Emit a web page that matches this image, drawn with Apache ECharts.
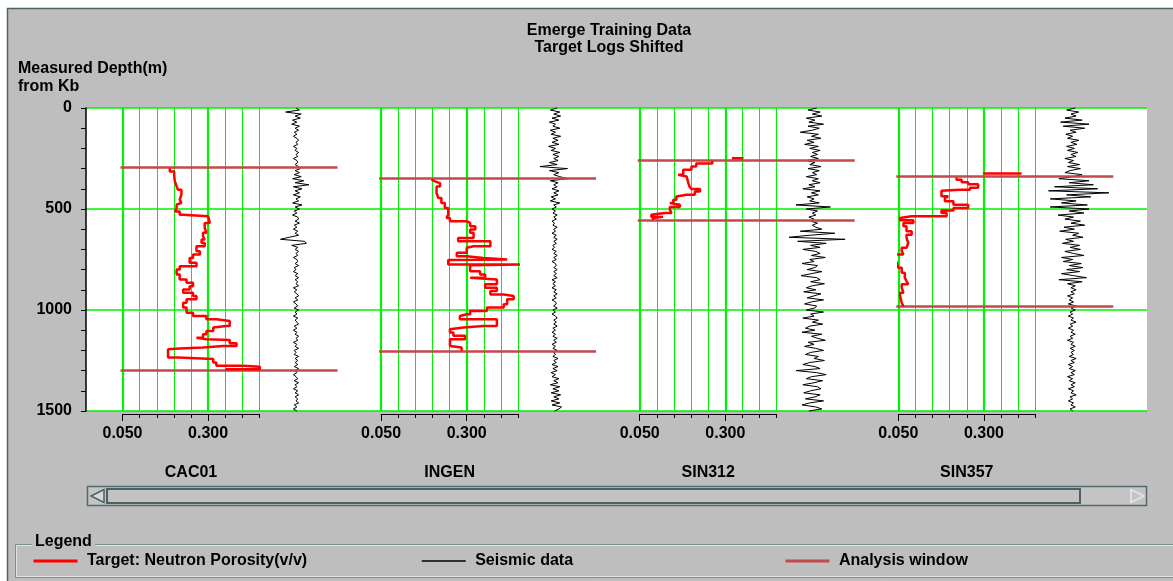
<!DOCTYPE html>
<html>
<head>
<meta charset="utf-8">
<script src="https://cdn.jsdelivr.net/npm/echarts@6/dist/echarts.min.js"></script>
<style>
  html, body { margin: 0; padding: 0; background: #ffffff; }
  #chart { width: 1173px; height: 581px; }
</style>
</head>
<body>
<div id="chart"></div>
<script>
// ---------------- DATA ----------------
const wellNames = ['CAC01', 'INGEN', 'SIN312', 'SIN357'];
const depthTicks = [0, 500, 1000, 1500];
const porAxisMin = 0.05, porAxisMax = 0.45, porAxisStep = 0.05;
const porLabelValues = [0.05, 0.3];

// Neutron porosity: block tops (m) and block values (v/v); last block ends at base
const cac01Top = [298,314,339,363,388,405,429,454,470,479,495,512,528,536,544,569,594,618,635,651,668,684,709,725,742,766,783,799,824,849,865,882,898,914,931,947,964,988,1013,1030,1046,1054,1079,1087,1104,1120,1137,1145,1148,1164,1178,1186,1191,1194,1235,1243,1260,1276,1281,1293];
const cac01Por = [0.188,0.201,0.203,0.208,0.212,0.222,0.217,0.222,0.217,0.208,0.203,0.217,0.227,0.300,0.305,0.290,0.295,0.285,0.290,0.281,0.290,0.266,0.276,0.256,0.246,0.266,0.217,0.208,0.217,0.237,0.256,0.246,0.227,0.256,0.266,0.237,0.227,0.237,0.256,0.295,0.324,0.363,0.353,0.315,0.295,0.285,0.266,0.295,0.363,0.383,0.344,0.285,0.217,0.183,0.212,0.315,0.324,0.402,0.451,0.353];
const cac01Base = 1300;

const ingenTop = [355,363,372,388,421,446,470,495,528,544,561,569,586,602,618,643,660,684,692,717,734,742,750,753,775,778,808,824,840,849,873,890,906,923,931,947,972,988,1005,1021,1030,1046,1079,1087,1095,1112,1128,1145,1178,1186];
const ingenPor = [0.197,0.207,0.222,0.212,0.217,0.226,0.236,0.246,0.241,0.251,0.300,0.310,0.325,0.310,0.320,0.275,0.369,0.320,0.300,0.271,0.300,0.349,0.418,0.246,0.457,0.310,0.339,0.354,0.310,0.388,0.354,0.388,0.369,0.408,0.437,0.418,0.408,0.359,0.310,0.300,0.280,0.388,0.349,0.290,0.251,0.261,0.295,0.251,0.246,0.285];
const ingenBase = 1202;

const sin312Top = [262,275,289,306,331,339,347,372,391,401,413,429,438,454,470,479,490,503,520,528,539,544];
const sin312Por = [0.262,0.215,0.201,0.177,0.162,0.187,0.192,0.196,0.201,0.226,0.211,0.187,0.157,0.148,0.138,0.167,0.138,0.143,0.123,0.084,0.118,0.089];
const sin312Base = 554;

const sin357Top = [344,355,368,378,395,405,410,437,446,462,479,495,508,520,536,544,556,569,585,610,627,643,668,692,709,725,742,766,791,816,840,857,873,890,914,931,964];
const sin357Por = [0.220,0.235,0.254,0.283,0.259,0.230,0.176,0.196,0.186,0.211,0.254,0.211,0.176,0.191,0.089,0.055,0.094,0.065,0.074,0.089,0.074,0.079,0.074,0.060,0.065,0.040,0.045,0.050,0.060,0.069,0.074,0.079,0.060,0.065,0.055,0.060,0.065];
const sin357Base = 982;

// short isolated porosity dash drawn just above the window (depth, from, to); null = none
const capDepth = [null, null, 249, 324];
const capFrom  = [null, null, 0.319, 0.298];
const capTo    = [null, null, 0.353, 0.410];

// analysis windows (top, bottom) in m
const windowTop    = [293, 350, 258, 336];
const windowBottom = [1299, 1202, 554, 982];

// seismic traces: amplitude every 10 m from 0 to 1500 m
const seisStep = 10;
const seisCAC01 = [
 0,4,-12,6,-1,5,-4,1,-5,4,
 -1,3,-2,1,-3,1,3,0,2,-3,
 1,-1,3,0,2,-3,1,2,-1,3,
 5,-1,4,-2,6,-4,9,-1,15,-3,
 7,-1,4,-3,5,0,3,-4,7,-1,
 4,-2,1,-4,2,3,-1,4,-2,1,
 -3,2,-1,3,-8,-18,10,12,-5,2,
 -1,3,0,2,-3,1,2,-1,3,-2,
 0,-3,2,-1,3,-1,2,0,3,-3,
 1,-2,1,3,-1,2,-3,0,2,-2,
 3,-1,1,-3,2,-1,1,3,-2,1,
 -3,1,-1,3,0,2,-3,1,-1,3,
 -2,0,-2,3,-1,2,-1,2,-2,3,
 -1,1,-3,0,2,-2,3,-1,1,-3,
 2,-1,3,-1,2,0,3,-2,1,-3,
 1];
const seisINGEN = [
 3,-5,6,-1,7,-3,5,-6,1,-2,
 6,-5,1,-4,7,-2,4,-3,5,-7,
 1,-4,6,-2,5,-1,4,-6,3,-17,
 15,-6,5,-1,6,15,-5,4,-1,3,
 -3,5,-1,4,-4,1,-5,6,-1,2,
 -3,1,-2,3,-1,2,-3,0,-2,3,
 -1,1,-3,2,-1,3,-1,2,-2,0,
 -3,2,-1,3,-1,2,-3,1,2,-1,
 3,-1,2,-1,3,-3,1,-2,1,-3,
 2,-1,3,-1,2,-3,1,2,-1,3,
 -2,1,-3,1,3,-1,2,-1,3,-2,
 1,-3,1,-2,3,-1,2,-3,1,-2,
 3,-1,1,-2,4,-1,2,-3,4,-2,
 3,-4,1,-3,5,-1,4,-5,6,-2,
 5,-4,7,-1,5,-4,6,-3,8,5,
 0];
const seisSIN312 = [
 4,-6,8,-1,10,-8,2,-5,12,-6,
 7,-1,-15,6,-2,9,-7,1,-10,6,
 -4,8,-1,5,-3,6,-8,2,-4,9,
 -6,7,-1,4,-8,6,-1,8,-5,2,
 -12,8,-2,6,-7,1,-4,7,-20,20,
 -8,5,-1,3,-5,1,-3,5,-1,3,
 10,-15,25,-4,-28,37,-18,15,-3,8,
 -12,3,8,-2,14,-4,1,-13,5,2,
 -7,10,-2,-14,4,8,-3,13,-1,-8,
 3,-11,9,1,-7,12,-2,-10,4,2,
 -8,12,-3,1,-12,6,-1,11,-4,-9,
 2,-13,10,-2,5,14,-6,1,-10,3,
 12,-3,-9,6,1,13,-4,-12,2,8,
 -20,4,15,-2,-8,11,1,-12,5,9,
 -3,-11,8,2,-9,12,-4,-13,3,10,
 -5];
const seisSIN357 = [
 4,-6,8,-1,5,-8,12,-13,20,-10,
 15,-2,5,-7,1,-5,8,-1,6,-6,
 3,-5,7,-1,5,-8,2,-4,9,-5,
 10,-2,-8,12,1,-15,20,-3,25,-20,
 30,-27,43,-6,22,-25,5,-12,18,-25,
 20,-3,14,-16,2,-8,10,-1,15,-9,
 3,-14,8,1,13,-7,2,-11,9,-2,
 10,-8,2,14,-12,1,-10,11,-3,13,
 -6,9,-12,2,17,-15,12,-5,4,-1,
 5,-1,3,-5,1,-3,2,-4,5,-1,
 4,-2,1,-4,2,-1,5,-2,1,-4,
 2,-1,4,-2,1,-5,2,-1,4,-2,
 3,-1,2,-3,5,-1,3,-4,1,-3,
 4,-1,3,-5,1,-3,4,-1,3,-4,
 2,-1,5,-2,1,-4,2,-1,4,-2,
 1];

const NAME_POR = 'Target: Neutron Porosity(v/v)';
const NAME_SEIS = 'Seismic data';
const NAME_WIN = 'Analysis window';

// ---------------- BUILD ----------------
const porTops = [cac01Top, ingenTop, sin312Top, sin357Top];
const porVals = [cac01Por, ingenPor, sin312Por, sin357Por];
const porBases = [cac01Base, ingenBase, sin312Base, sin357Base];
const seisTraces = [seisCAC01, seisINGEN, seisSIN312, seisSIN357];

const FONT = 'Liberation Sans, Arial, Helvetica, sans-serif';
const GREEN = '#00f200';
const RED = '#ff0000';
const WINRED = '#c24a4a';
const GRAY = '#bebebe';

const PLOT_TOP = 108, PLOT_H = 303;
const TRACK_L0 = 122.5, TRACK_STEP = 258.6, TRACK_W = 137;
const SEIS_OFF = 173.5, SEIS_HALF = 50, SEIS_SCALE = 58;
const WIN_OFF = -2, WIN_W = 217;

function stairs(tops, vals, base) {
  const pts = [];
  for (let i = 0; i < tops.length; i++) {
    const bottom = i + 1 < tops.length ? tops[i + 1] : base;
    pts.push([vals[i], tops[i]], [vals[i], bottom]);
  }
  return pts;
}

const grid = [{ left: 86, top: PLOT_TOP, width: 1061, height: PLOT_H, show: true,
  backgroundColor: '#ffffff', borderWidth: 0, z: -1 }];
const xAxis = [{ gridIndex: 0, type: 'value', min: 0, max: 1, show: false }];
const yAxis = [{
  gridIndex: 0, type: 'value', min: depthTicks[0], max: depthTicks[depthTicks.length - 1],
  interval: depthTicks[1] - depthTicks[0], inverse: true, position: 'left', offset: 2,
  axisLine: { show: true, lineStyle: { color: '#000', width: 1.5 } },
  axisTick: { show: true, length: 5, lineStyle: { color: '#000', width: 1 } },
  minorTick: { show: true, splitNumber: 5, length: 5, lineStyle: { color: '#000', width: 1 } },
  axisLabel: { color: '#000', fontSize: 16, fontWeight: 'bold', fontFamily: FONT, margin: 12,
    formatter: v => String(v) },
  splitLine: { show: true, lineStyle: { color: GREEN, width: 1.5 } }
}];
const series = [];

for (let i = 0; i < 4; i++) {
  const L = TRACK_L0 + i * TRACK_STEP;
  const gT = grid.length, gS = gT + 1, gW = gT + 2;
  grid.push({ left: L, top: PLOT_TOP, width: TRACK_W, height: PLOT_H });
  grid.push({ left: L + SEIS_OFF - SEIS_HALF, top: PLOT_TOP, width: SEIS_HALF * 2, height: PLOT_H });
  grid.push({ left: L + WIN_OFF, top: PLOT_TOP, width: WIN_W, height: PLOT_H });

  const xA = xAxis.length;
  xAxis.push({
    gridIndex: gT, type: 'value', min: porAxisMin, max: porAxisMax, interval: porAxisStep,
    position: 'bottom', offset: 3,
    axisLine: { show: true, onZero: false, lineStyle: { color: '#000', width: 1 } },
    axisTick: { show: true, length: 4, lineStyle: { color: '#000', width: 1 } },
    axisLabel: { show: false },
    splitLine: { show: true, lineStyle: { color: GREEN, width: 1 } }
  });
  xAxis.push({
    gridIndex: gT, type: 'value', min: porAxisMin, max: porAxisMax, interval: porAxisStep,
    position: 'bottom', offset: 3,
    axisLine: { show: false, onZero: false },
    axisTick: { show: true, length: 7, customValues: porLabelValues, lineStyle: { color: '#000', width: 1 } },
    axisLabel: { show: true, customValues: porLabelValues, margin: 12,
      formatter: v => Number(v).toFixed(3),
      color: '#000', fontSize: 16, fontWeight: 'bold', fontFamily: FONT },
    splitLine: { show: false },
    name: wellNames[i], nameLocation: 'middle', nameGap: 51,
    nameTextStyle: { color: '#000', fontSize: 16, fontWeight: 'bold', fontFamily: FONT }
  });
  const xS = xAxis.length;
  xAxis.push({ gridIndex: gS, type: 'value', min: -SEIS_SCALE, max: SEIS_SCALE, show: false });
  const xW = xAxis.length;
  xAxis.push({ gridIndex: gW, type: 'value', min: 0, max: 1, show: false });

  const yT = yAxis.length;
  [gT, gS, gW].forEach(g => yAxis.push({ gridIndex: g, type: 'value', min: 0, max: 1500, inverse: true, show: false }));

  // thick major grid lines
  series.push({
    type: 'line', xAxisIndex: xA, yAxisIndex: yT, data: [], silent: true, z: 2,
    markLine: { silent: true, symbol: 'none', animation: false, label: { show: false },
      lineStyle: { color: GREEN, width: 2.2, type: 'solid' },
      data: porLabelValues.map(v => ({ xAxis: v })) }
  });

  // porosity log
  let pts = stairs(porTops[i], porVals[i], porBases[i]);
  if (capDepth[i] !== null) {
    pts = [[capFrom[i], capDepth[i]], [capTo[i], capDepth[i]], ['-', '-']].concat(pts);
  }
  series.push({
    name: NAME_POR, type: 'line', xAxisIndex: xA, yAxisIndex: yT, data: pts,
    symbol: 'none', clip: false, z: 6, connectNulls: false,
    lineStyle: { color: RED, width: 2.5 }, itemStyle: { color: RED }
  });

  // seismic trace
  series.push({
    name: NAME_SEIS, type: 'line', xAxisIndex: xS, yAxisIndex: yT + 1,
    data: seisTraces[i].map((a, k) => [a, k * seisStep]),
    symbol: 'none', clip: false, z: 4,
    lineStyle: { color: '#000', width: 1 }, itemStyle: { color: '#000' }
  });

  // analysis window
  series.push({
    name: NAME_WIN, type: 'line', xAxisIndex: xW, yAxisIndex: yT + 2, data: [],
    symbol: 'none', z: 5,
    lineStyle: { color: WINRED, width: 2.5 }, itemStyle: { color: WINRED },
    markLine: { silent: true, symbol: 'none', animation: false, label: { show: false },
      lineStyle: { color: WINRED, width: 2.5, type: 'solid' },
      data: [{ yAxis: windowTop[i] }, { yAxis: windowBottom[i] }] }
  });
}

const legendText = { color: '#000', fontSize: 16, fontWeight: 'bold', fontFamily: FONT };
function mkLegend(name, left, lw) {
  return { data: [name], left: left, top: 553, itemWidth: 44, itemHeight: 14,
    selectedMode: false, formatter: ' {name}', textStyle: legendText,
    itemStyle: { opacity: 0, borderWidth: 0 },
    lineStyle: { width: lw },
    padding: 0, itemGap: 0 };
}

const option = {
  animation: false,
  backgroundColor: GRAY,
  textStyle: { fontFamily: FONT },
  title: [
    { text: 'Emerge Training Data\nTarget Logs Shifted', left: 609, top: 22, textAlign: 'center',
      padding: 0,
      textStyle: { color: '#000', fontSize: 16, fontWeight: 'bold', fontFamily: FONT, lineHeight: 17 } },
    { text: 'Measured Depth(m)\nfrom Kb', left: 18, top: 60, padding: 0,
      textStyle: { color: '#000', fontSize: 16, fontWeight: 'bold', fontFamily: FONT, lineHeight: 18 } }
  ],
  legend: [mkLegend(NAME_POR, 32, 3), mkLegend(NAME_SEIS, 421, 1.5), mkLegend(NAME_WIN, 784, 3)],
  grid: grid, xAxis: xAxis, yAxis: yAxis, series: series,
  graphic: [
    { type: 'rect', z: -10, silent: true, shape: { x: 0, y: 0, width: 1173, height: 8 }, style: { fill: '#ffffff' } },
    { type: 'rect', z: -10, silent: true, shape: { x: 0, y: 0, width: 7, height: 581 }, style: { fill: '#ffffff' } },
    { type: 'polyline', z: -9, silent: true, shape: { points: [[7.5, 581], [7.5, 8.5], [1173, 8.5]] },
      style: { stroke: '#4f6464', lineWidth: 1.5, fill: null } },
    // scrollbar
    { type: 'rect', silent: true, shape: { x: 87.5, y: 486.5, width: 1059, height: 19 },
      style: { fill: '#c4c4c4', stroke: '#506a6a', lineWidth: 1.5 } },
    { type: 'rect', silent: true, shape: { x: 107, y: 489, width: 973, height: 14 },
      style: { fill: '#c2c2c2', stroke: '#4a6262', lineWidth: 2 } },
    { type: 'polygon', silent: true, shape: { points: [[104, 489.5], [104, 502.5], [91, 496]] },
      style: { fill: '#d8d8d8', stroke: '#4a6262', lineWidth: 1.5 } },
    { type: 'polygon', silent: true, shape: { points: [[1131, 489.5], [1131, 502.5], [1144, 496]] },
      style: { fill: '#c4c4c4', stroke: '#e6e6f2', lineWidth: 1.5 } },
    // legend frame
    { type: 'rect', silent: true, shape: { x: 15.5, y: 544.5, width: 1170, height: 33 },
      style: { fill: null, stroke: '#7d8e8e', lineWidth: 1 } },
    { type: 'rect', silent: true, shape: { x: 16.5, y: 545.5, width: 1170, height: 31 },
      style: { fill: null, stroke: '#e2e2e2', lineWidth: 1 } },
    { type: 'text', silent: true, style: { text: 'Legend', x: 32, y: 542, verticalAlign: 'middle',
      font: 'bold 16px ' + FONT, fill: '#000', backgroundColor: GRAY, padding: [0, 3] } }
  ]
};

const chart = echarts.init(document.getElementById('chart'), null, { renderer: 'canvas' });
chart.setOption(option);
</script>
</body>
</html>
